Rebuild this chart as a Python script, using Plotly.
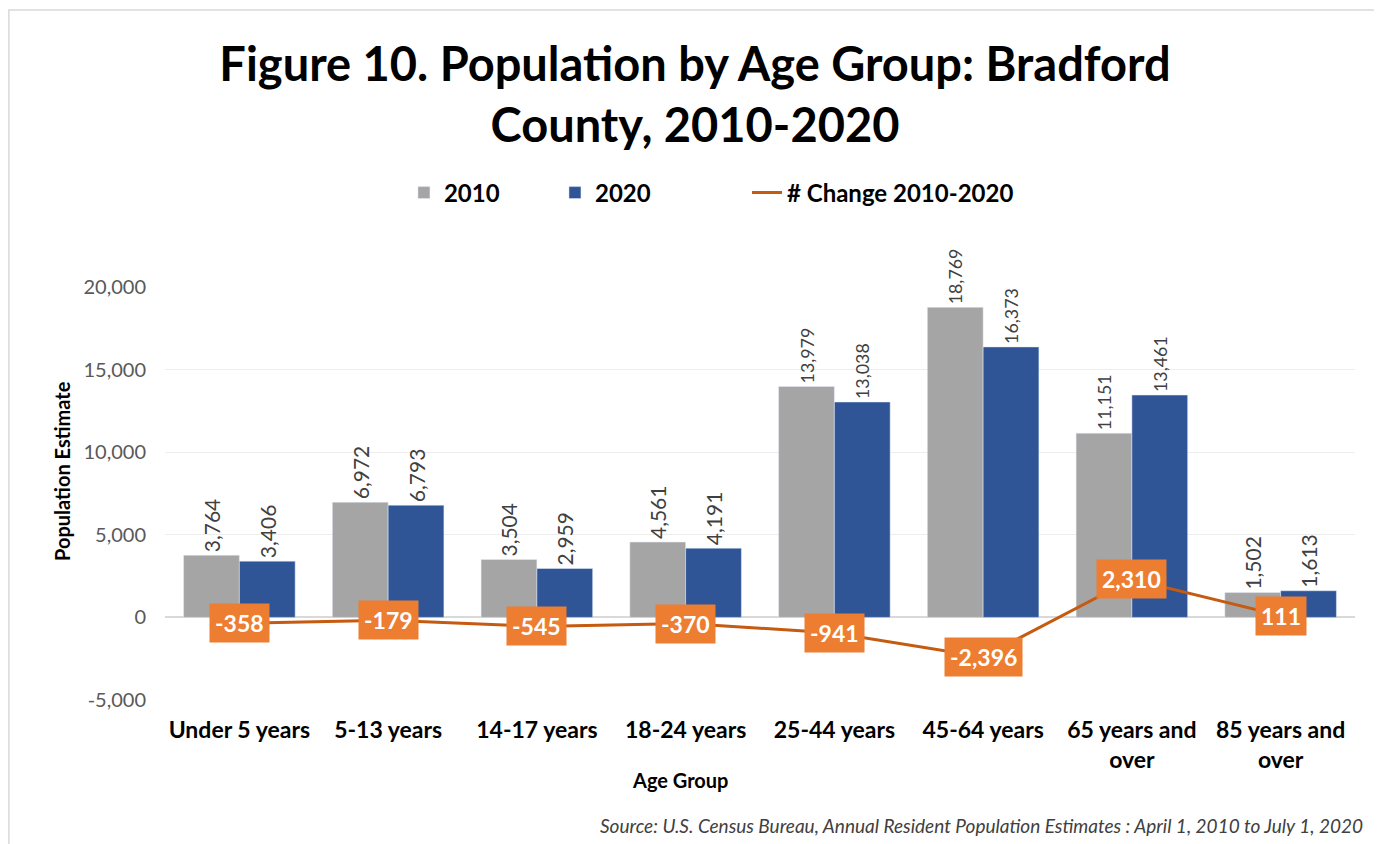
import plotly.graph_objects as go

categories = ["Under 5 years", "5-13 years", "14-17 years", "18-24 years",
              "25-44 years", "45-64 years", "65 years and<br>over", "85 years and<br>over"]
pop_2010 = [3764, 6972, 3504, 4561, 13979, 18769, 11151, 1502]
pop_2020 = [3406, 6793, 2959, 4191, 13038, 16373, 13461, 1613]
change = [-358, -179, -545, -370, -941, -2396, 2310, 111]
y_ticks = [-5000, 0, 5000, 10000, 15000, 20000]
y_tick_text = ["-5,000", "0", "5,000", "10,000", "15,000", "20,000"]

FONT = "Lato"

fig = go.Figure()
fig.add_trace(go.Bar(
    name="<b>2010</b>", x=categories, y=pop_2010, marker_color="#A5A5A5",
    texttemplate="%{y:,}", textposition="outside", textangle=-90,
    textfont=dict(size=21, color="#404040", family=FONT), cliponaxis=False,
    legend="legend",
))
fig.add_trace(go.Bar(
    name="<b>2020</b>", x=categories, y=pop_2020, marker_color="#2F5597",
    texttemplate="%{y:,}", textposition="outside", textangle=-90,
    textfont=dict(size=21, color="#404040", family=FONT), cliponaxis=False,
    legend="legend2",
))
fig.add_trace(go.Scatter(
    name="<b># Change 2010-2020</b>", x=categories, y=change, mode="lines",
    line=dict(color="#C55A11", width=3), cliponaxis=False,
    legend="legend3",
))

annotations = []
for c, v in zip(categories, change):
    annotations.append(dict(
        x=c, y=v, xref="x", yref="y", text=f"<b>{v:,}</b>", showarrow=False,
        font=dict(size=23, color="white", family=FONT),
        bgcolor="#ED7D31", borderpad=5, xanchor="center", yanchor="middle",
    ))
annotations.append(dict(
    x=1.0084, y=-0.305, xref="paper", yref="paper", xanchor="right", yanchor="middle",
    text="<i>Source: U.S. Census Bureau, Annual Resident Population Estimates : April 1, 2010 to July 1, 2020</i>",
    showarrow=False, font=dict(size=19, color="#404040", family=FONT),
))
annotations.append(dict(
    x=0.4328, y=-0.1937, xref="paper", yref="paper", xanchor="center", yanchor="middle",
    text="<b>Age Group</b>", showarrow=False, font=dict(size=20, color="black", family=FONT),
))
annotations.append(dict(
    x=-0.0866, y=0.5545, xref="paper", yref="paper", xanchor="center", yanchor="middle",
    text="<b>Population Estimate</b>", showarrow=False, textangle=-90,
    font=dict(size=20, color="black", family=FONT),
))

legend_common = dict(orientation="h", xanchor="left", y=1.2276, yanchor="middle",
                     font=dict(size=24, color="black", family=FONT), bgcolor="rgba(0,0,0,0)")

fig.update_layout(
    width=1374, height=836,
    paper_bgcolor="white", plot_bgcolor="white",
    font=dict(family=FONT, color="#000000"),
    title=dict(text="<b>Figure 10. Population by Age Group: Bradford<br>County, 2010-2020</b>",
               x=0.5, xanchor="center", y=0.913, yanchor="middle",
               font=dict(size=47, color="black", family=FONT)),
    barmode="group", bargap=0.25, bargroupgap=0,
    legend=dict(x=0.2008, **legend_common),
    legend2=dict(x=0.3277, **legend_common),
    legend3=dict(x=0.4891, **legend_common),
    margin=dict(l=157, r=27, t=279, b=144, autoexpand=False),
    annotations=annotations,
    showlegend=True,
)
fig.update_yaxes(
    range=[-5000, 20000], tickvals=y_ticks, ticktext=y_tick_text,
    gridcolor="#EDEDED", gridwidth=1, zeroline=True, zerolinecolor="#D9D9D9", zerolinewidth=1.5,
    tickfont=dict(size=20, color="#595959", family=FONT), ticks="", ticklabelstandoff=18,
)
fig.update_xaxes(
    tickfont=dict(size=23, color="black", family=FONT), tickprefix="<b>", ticksuffix="</b>",
    showline=False, ticks="", ticklabelstandoff=14,
)
fig.add_shape(type="rect", xref="paper", yref="paper", x0=-0.1312, x1=1.0195, y0=-0.4, y1=1.671,
              line=dict(color="#D9D9D9", width=1.5), fillcolor="rgba(0,0,0,0)", layer="below")

fig.write_html("out.html")
